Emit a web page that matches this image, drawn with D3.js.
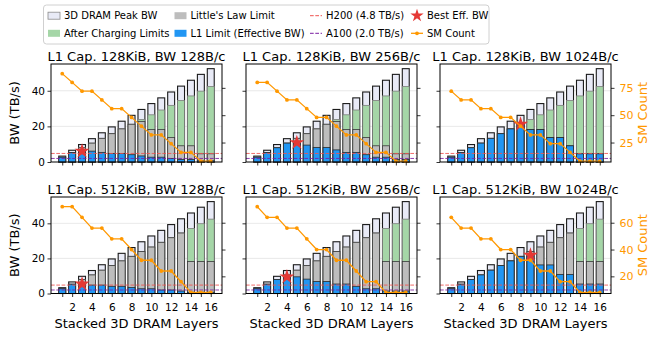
<!DOCTYPE html>
<html>
<head>
<meta charset="utf-8">
<script src="https://cdn.jsdelivr.net/npm/d3@7"></script>
<style>
  html, body { margin: 0; padding: 0; background: #fff; }
  svg { display: block; font-family: "DejaVu Sans", sans-serif; }
</style>
</head>
<body>
<svg id="chart" width="649" height="339"></svg>
<script>
// ---- data ----------------------------------------------------------------
const layers = [1, 2, 3, 4, 5, 6, 7, 8, 9, 10, 11, 12, 13, 14, 15, 16];

// 3D DRAM peak bandwidth (TB/s) per stack height
const peakBW    = [3.3, 6.6, 9.8, 13.1, 16.4, 19.7, 22.9, 26.2, 29.5, 32.8, 36.0, 39.3, 42.6, 45.9, 49.2, 52.4];
// bandwidth left after charging limits (TB/s)
const chargedBW = [2.7, 5.3, 8.0, 10.6, 13.3, 15.9, 18.6, 21.2, 23.9, 26.5, 29.2, 31.8, 34.5, 37.1, 39.8, 42.4];

// SM count per configuration
const sm_128K_128B  = [88, 80, 72, 72, 64, 56, 56, 48, 40, 32, 32, 24, 16, 16, 8, 8];
const sm_128K_256B  = [80, 80, 72, 64, 64, 56, 48, 48, 40, 32, 32, 24, 16, 16, 8, 8];
const sm_128K_1024B = [72, 64, 64, 56, 56, 48, 48, 40, 32, 32, 24, 24, 16, 8, 8, 8];
const sm_512K_128B  = [72, 72, 64, 56, 56, 48, 48, 40, 32, 32, 24, 24, 16, 8, 8, 8];
const sm_512K_256B  = [72, 64, 64, 56, 56, 48, 40, 40, 32, 32, 24, 16, 16, 8, 8, 8];
const sm_512K_1024B = [64, 56, 56, 48, 48, 40, 40, 32, 32, 24, 24, 16, 16, 8, 8, 8];

// Little's-law bound (TB/s)
const little_128K_128B  = [2.7, 5.3, 8.0, 10.6, 13.3, 15.9, 18.6, 21.2, 22.8, 18.2, 18.2, 13.7, 9.1, 9.1, 4.6, 4.6];
const little_128K_256B  = [2.7, 5.3, 8.0, 10.6, 13.3, 15.9, 18.6, 21.2, 22.8, 18.2, 18.2, 13.7, 9.1, 9.1, 4.6, 4.6];
const little_128K_1024B = [2.7, 5.3, 8.0, 10.6, 13.3, 15.9, 18.6, 21.2, 18.2, 18.2, 13.7, 13.7, 9.1, 4.6, 4.6, 4.6];
const little_512K_128B  = [2.7, 5.3, 8.0, 10.6, 13.3, 15.9, 18.6, 21.2, 23.9, 26.5, 29.2, 31.8, 34.5, 18.2, 18.2, 18.2];
const little_512K_256B  = [2.7, 5.3, 8.0, 10.6, 13.3, 15.9, 18.6, 21.2, 23.9, 26.5, 29.2, 31.8, 34.5, 18.2, 18.2, 18.2];
const little_512K_1024B = [2.7, 5.3, 8.0, 10.6, 13.3, 15.9, 18.6, 21.2, 23.9, 26.5, 29.2, 31.8, 34.5, 18.2, 18.2, 18.2];

// L1-limited effective bandwidth (TB/s)
const l1_128K_128B  = [2.7, 5.3, 6.1, 6.1, 5.4, 4.8, 4.8, 4.1, 3.4, 2.7, 2.7, 2.0, 1.4, 1.4, 0.7, 0.7];
const l1_128K_256B  = [2.7, 5.3, 8.0, 10.6, 10.9, 9.5, 8.2, 8.2, 6.8, 5.4, 5.4, 4.1, 2.7, 2.7, 1.4, 1.4];
const l1_128K_1024B = [2.7, 5.3, 8.0, 10.6, 13.3, 15.9, 18.6, 21.2, 18.2, 18.2, 13.7, 13.7, 9.1, 4.6, 4.6, 4.6];
const l1_512K_128B  = [2.7, 5.3, 5.4, 4.8, 4.8, 4.1, 4.1, 3.4, 2.7, 2.7, 2.0, 2.0, 1.4, 0.7, 0.7, 0.7];
const l1_512K_256B  = [2.7, 5.3, 8.0, 9.5, 9.5, 8.2, 6.8, 6.8, 5.4, 5.4, 4.1, 2.7, 2.7, 1.4, 1.4, 1.4];
const l1_512K_1024B = [2.7, 5.3, 8.0, 10.6, 13.3, 15.9, 18.6, 21.2, 21.8, 16.3, 16.3, 10.9, 10.9, 5.4, 5.4, 5.4];

const panelTitles = [
  "L1 Cap. 128KiB, BW 128B/c", "L1 Cap. 128KiB, BW 256B/c", "L1 Cap. 128KiB, BW 1024B/c",
  "L1 Cap. 512KiB, BW 128B/c", "L1 Cap. 512KiB, BW 256B/c", "L1 Cap. 512KiB, BW 1024B/c"
];
const smSeries     = [sm_128K_128B, sm_128K_256B, sm_128K_1024B, sm_512K_128B, sm_512K_256B, sm_512K_1024B];
const littleSeries = [little_128K_128B, little_128K_256B, little_128K_1024B, little_512K_128B, little_512K_256B, little_512K_1024B];
const l1Series     = [l1_128K_128B, l1_128K_256B, l1_128K_1024B, l1_512K_128B, l1_512K_256B, l1_512K_1024B];

// reference GPUs (TB/s)
const h200BW = 4.8;
const a100BW = 2.0;

// tick labels
const bwTicks = [0, 20, 40];
const smTicksByRow = [[25, 50, 75], [20, 40, 60]];
const layerTickLabels = [2, 4, 6, 8, 10, 12, 14, 16];

// ---- styling -------------------------------------------------------------
const C = {
  peak: "#e8eaf6",
  charged: "#a5d6a7",
  little: "#bdbdbd",
  l1: "#2196f3",
  h200: "#ef5350",
  a100: "#7b1fa2",
  star: "#e53935",
  sm: "#ff9800"
};

const colX = [51, 246, 440];
const panelW = 171;
const rowY = [64, 197];
const rowH = [98, 96.5];
const barW = 0.7;

const svg = d3.select("#chart");

// shared scales per row for the SM axis
const smDomains = [0, 1].map(r => {
  const vals = smSeries.slice(r * 3, r * 3 + 3).flat();
  return [d3.min(vals) * 0.9, d3.max(vals) * 1.1];
});
const bwMax = d3.max(peakBW) * 1.05;
const xPad = (d3.max(layers) - d3.min(layers) + barW) * 0.05;
const xDomain = [d3.min(layers) - barW / 2 - xPad, d3.max(layers) + barW / 2 + xPad];

panelTitles.forEach((title, i) => {
  const row = Math.floor(i / 3), col = i % 3;
  const x0 = colX[col], y0 = rowY[row], h = rowH[row];
  const x = d3.scaleLinear().domain(xDomain).range([x0, x0 + panelW]);
  const y = d3.scaleLinear().domain([0, bwMax]).range([y0 + h, y0]);
  const yR = d3.scaleLinear().domain(smDomains[row]).range([y0 + h, y0]);
  const sm = smSeries[i], little = littleSeries[i], l1 = l1Series[i];
  const g = svg.append("g");

  // grid
  g.selectAll(".grid").data(bwTicks.filter(t => t > 0)).join("line")
    .attr("x1", x0).attr("x2", x0 + panelW)
    .attr("y1", d => y(d)).attr("y2", d => y(d))
    .attr("stroke", "#e3e3e3").attr("stroke-width", 0.8);

  const bw = x(barW) - x(0);
  function bars(vals, fill, stroke, sw) {
    g.append("g").selectAll("rect").data(layers).join("rect")
      .attr("x", (d) => x(d) - bw / 2)
      .attr("width", bw)
      .attr("y", (d, k) => y(vals[k]))
      .attr("height", (d, k) => y(0) - y(vals[k]))
      .attr("fill", fill).attr("stroke", stroke).attr("stroke-width", sw);
  }
  bars(peakBW, C.peak, "#1a1a1a", 1.1);
  bars(chargedBW, C.charged, "#7d7d7d", 0.8);
  bars(little, C.little, "#3a3a3a", 0.8);
  bars(l1, C.l1, "#2b2b2b", 0.8);

  // reference lines
  [[h200BW, C.h200], [a100BW, C.a100]].forEach(([v, c]) => {
    g.append("line")
      .attr("x1", x0).attr("x2", x0 + panelW)
      .attr("y1", y(v)).attr("y2", y(v))
      .attr("stroke", c).attr("stroke-width", 1).attr("stroke-opacity", 0.85)
      .attr("stroke-dasharray", "3.7,1.6");
  });

  // best effective bandwidth
  const best = d3.maxIndex(l1);
  g.append("path")
    .attr("d", d3.symbol(d3.symbolStar, 70)())
    .attr("transform", `translate(${x(layers[best])},${y(l1[best])})`)
    .attr("fill", C.star);

  // SM count line
  const line = d3.line().x((d, k) => x(layers[k])).y(d => yR(d));
  g.append("path").datum(sm).attr("d", line)
    .attr("fill", "none").attr("stroke", C.sm).attr("stroke-width", 1.3);
  g.selectAll(".smdot").data(sm).join("circle")
    .attr("cx", (d, k) => x(layers[k])).attr("cy", d => yR(d))
    .attr("r", 1.9).attr("fill", C.sm);

  // frame
  g.append("rect").attr("x", x0).attr("y", y0).attr("width", panelW).attr("height", h)
    .attr("fill", "none").attr("stroke", "#000").attr("stroke-width", 1);

  // axes
  const left = d3.axisLeft(y).tickValues(bwTicks).tickSize(3.5).tickPadding(2.5)
    .tickFormat(col === 0 ? d3.format("d") : () => "");
  const gl = g.append("g").attr("transform", `translate(${x0},0)`).call(left);

  const right = d3.axisRight(yR).tickValues(smTicksByRow[row]).tickSize(3.5).tickPadding(5)
    .tickFormat(col === 2 ? d3.format("d") : () => "");
  const gr = g.append("g").attr("transform", `translate(${x0 + panelW},0)`).call(right);
  gr.selectAll("text").attr("fill", C.sm);

  const bottom = d3.axisBottom(x).tickValues(layers).tickSize(3.5).tickPadding(7)
    .tickFormat(d => (row === 1 && layerTickLabels.includes(d)) ? String(d) : "");
  const gb = g.append("g").attr("transform", `translate(0,${y0 + h})`).call(bottom);

  [gl, gr, gb].forEach(a => {
    a.select(".domain").remove();
    a.selectAll("line").attr("stroke", "#000").attr("stroke-width", 0.8);
    a.selectAll("text").attr("font-size", 10.5).attr("font-family", "DejaVu Sans");
  });
  gr.selectAll("text").attr("font-size", 11);

  // title
  g.append("text").attr("x", x0 + panelW / 2).attr("y", y0 - 3)
    .attr("text-anchor", "middle").attr("font-size", 13).text(title);

  if (col === 0) {
    g.append("text")
      .attr("transform", `translate(19,${y0 + h / 2}) rotate(-90)`)
      .attr("text-anchor", "middle").attr("font-size", 13).text("BW (TB/s)");
  }
  if (col === 2) {
    g.append("text")
      .attr("transform", `translate(647,${y0 + h / 2}) rotate(-90)`)
      .attr("text-anchor", "middle").attr("font-size", 13).attr("fill", C.sm).text("SM Count");
  }
  if (row === 1) {
    g.append("text").attr("x", x0 + panelW / 2).attr("y", 328)
      .attr("text-anchor", "middle").attr("font-size", 13).text("Stacked 3D DRAM Layers");
  }
});

// ---- legend --------------------------------------------------------------
const lg = svg.append("g");
lg.append("rect").attr("x", 43.5).attr("y", 5).attr("width", 445.5).attr("height", 39)
  .attr("rx", 3).attr("fill", "#fff").attr("fill-opacity", 0.85)
  .attr("stroke", "#d0d0d0").attr("stroke-width", 1);

const legendItems = [
  { label: "3D DRAM Peak BW", kind: "patch", fill: C.peak, stroke: "#8a8a8a", cx: 48, cy: 15.7 },
  { label: "After Charging Limits", kind: "patch", fill: C.charged, cx: 48, cy: 33.3 },
  { label: "Little's Law Limit", kind: "patch", fill: C.little, cx: 174.5, cy: 15.7 },
  { label: "L1 Limit (Effective BW)", kind: "patch", fill: C.l1, cx: 174.5, cy: 33.3 },
  { label: "H200 (4.8 TB/s)", kind: "dash", color: C.h200, cx: 310, cy: 15.7 },
  { label: "A100 (2.0 TB/s)", kind: "dash", color: C.a100, cx: 310, cy: 33.3 },
  { label: "Best Eff. BW", kind: "star", color: C.star, cx: 411, cy: 15.7 },
  { label: "SM Count", kind: "smline", color: C.sm, cx: 411, cy: 33.3 }
];
legendItems.forEach(it => {
  const hw = 12;
  if (it.kind === "patch") {
    lg.append("rect").attr("x", it.cx).attr("y", it.cy - 3.5).attr("width", hw).attr("height", 7)
      .attr("fill", it.fill).attr("stroke", it.stroke || "none").attr("stroke-width", 0.8);
  } else if (it.kind === "dash") {
    lg.append("line").attr("x1", it.cx).attr("x2", it.cx + hw).attr("y1", it.cy).attr("y2", it.cy)
      .attr("stroke", it.color).attr("stroke-width", 1).attr("stroke-dasharray", "3.7,1.6");
  } else if (it.kind === "star") {
    lg.append("path").attr("d", d3.symbol(d3.symbolStar, 55)())
      .attr("transform", `translate(${it.cx + hw / 2},${it.cy})`).attr("fill", it.color);
  } else {
    lg.append("line").attr("x1", it.cx).attr("x2", it.cx + hw).attr("y1", it.cy).attr("y2", it.cy)
      .attr("stroke", it.color).attr("stroke-width", 1.3);
    lg.append("circle").attr("cx", it.cx + hw / 2).attr("cy", it.cy).attr("r", 1.9).attr("fill", it.color);
  }
  lg.append("text").attr("x", it.cx + hw + 4).attr("y", it.cy).attr("dy", "0.35em")
    .attr("font-size", 10).text(it.label);
});
</script>
</body>
</html>
